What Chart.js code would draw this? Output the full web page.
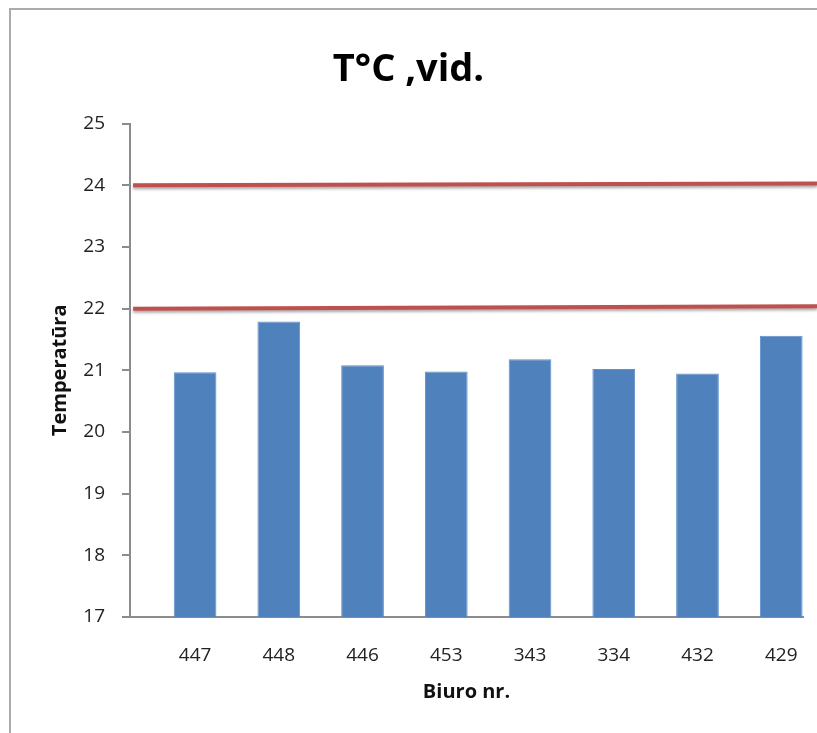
<!DOCTYPE html>
<html>
<head>
<meta charset="utf-8">
<title>T°C ,vid.</title>
<script src="https://cdn.jsdelivr.net/npm/chart.js@4"></script>
<style>
  html, body { margin: 0; padding: 0; background: #fff; overflow: hidden; }
  #wrap { position: relative; width: 817px; height: 733px; }
  #frame {
    position: absolute; left: 9px; top: 8px; width: 1000px; height: 1000px;
    border-left: 2px solid #ababab; border-top: 2px solid #ababab;
  }
  #chart { position: absolute; left: 0; top: 0; }
</style>
</head>
<body>
<div id="wrap">
  <div id="frame"></div>
  <canvas id="chart" width="817" height="733"></canvas>
</div>
<script>
// Office numbers along the x axis
const offices = ['447', '448', '446', '453', '343', '334', '432', '429'];
// Average temperature measured in each office, °C
const temperatures = [20.97, 21.79, 21.08, 20.98, 21.18, 21.02, 20.95, 21.56];
// Comfort band limits, °C (value at the left and right end of each line)
const upperLimit = [24.0, 24.03];
const lowerLimit = [22.0, 22.04];
// Horizontal extent of the limit lines, in category units
const limitSpan = [-0.74, 7.43];
// Temperature axis ticks
const yMin = 17, yMax = 25, yStep = 1;

const FONT = '"Open Sans", "Liberation Sans", sans-serif';

const limitLine = (vals) => limitSpan.map((x, i) => ({ x: x, y: vals[i] }));

// soft drop shadow under the limit lines
const lineShadow = {
  id: 'lineShadow',
  beforeDatasetDraw(chart, args) {
    if (args.meta.type === 'line') {
      const ctx = chart.ctx;
      ctx.save();
      ctx.shadowColor = 'rgba(0,0,0,0.35)';
      ctx.shadowBlur = 3;
      ctx.shadowOffsetY = 2;
    }
  },
  afterDatasetDraw(chart, args) {
    if (args.meta.type === 'line') chart.ctx.restore();
  }
};

new Chart(document.getElementById('chart'), {
  data: {
    datasets: [
      {
        type: 'bar',
        data: temperatures.map((v, i) => ({ x: i, y: v })),
        backgroundColor: '#4f81bd',
        borderColor: '#5d8fcb',
        borderWidth: 1,
        categoryPercentage: 1,
        barPercentage: 0.51,
        order: 2
      },
      {
        type: 'line',
        data: limitLine(upperLimit),
        borderColor: '#c0504d',
        borderWidth: 4,
        pointRadius: 0,
        clip: false,
        order: 1
      },
      {
        type: 'line',
        data: limitLine(lowerLimit),
        borderColor: '#c0504d',
        borderWidth: 4,
        pointRadius: 0,
        clip: false,
        order: 1
      }
    ]
  },
  plugins: [lineShadow],
  options: {
    responsive: false,
    animation: false,
    layout: { padding: 0 },
    plugins: {
      legend: { display: false },
      tooltip: { enabled: false },
      title: {
        display: true,
        text: 'T°C ,vid.',
        color: '#000',
        font: { family: FONT, size: 38, weight: 'bold', lineHeight: 1.2 },
        padding: { top: 47, bottom: 31 }
      }
    },
    scales: {
      x: {
        type: 'linear',
        offset: false,
        min: -0.777,
        max: 7.26,
        afterFit(scale) {
          scale.height = 116;
          scale.paddingLeft = 0;
          scale.paddingRight = 14;
        },
        afterBuildTicks(scale) {
          scale.ticks = offices.map((_, i) => ({ value: i }));
        },
        border: { display: true, color: '#8c8c8c', width: 2 },
        grid: { display: false, drawTicks: false },
        ticks: {
          autoSkip: false,
          maxRotation: 0,
          padding: 27,
          color: '#222',
          font: { family: FONT, size: 19 },
          callback: (v) => offices[v]
        },
        title: {
          display: true,
          text: 'Biuro nr.',
          color: '#111',
          font: { family: FONT, size: 20, weight: 'bold', lineHeight: 1.2 },
          padding: { top: 0, bottom: 29 }
        }
      },
      y: {
        min: yMin,
        max: yMax,
        afterFit(scale) { scale.width = 130; },
        border: { display: true, color: '#8c8c8c', width: 2 },
        grid: {
          drawOnChartArea: false,
          drawTicks: true,
          tickLength: 8,
          color: '#8c8c8c',
          lineWidth: 2
        },
        ticks: {
          stepSize: yStep,
          padding: 17,
          color: '#222',
          font: { family: FONT, size: 19 }
        },
        title: {
          display: true,
          text: 'Temperatūra',
          color: '#111',
          font: { family: FONT, size: 20, weight: 'bold', lineHeight: 1.2 },
          padding: { top: 48, bottom: 0 }
        }
      }
    }
  }
});
</script>
</body>
</html>
